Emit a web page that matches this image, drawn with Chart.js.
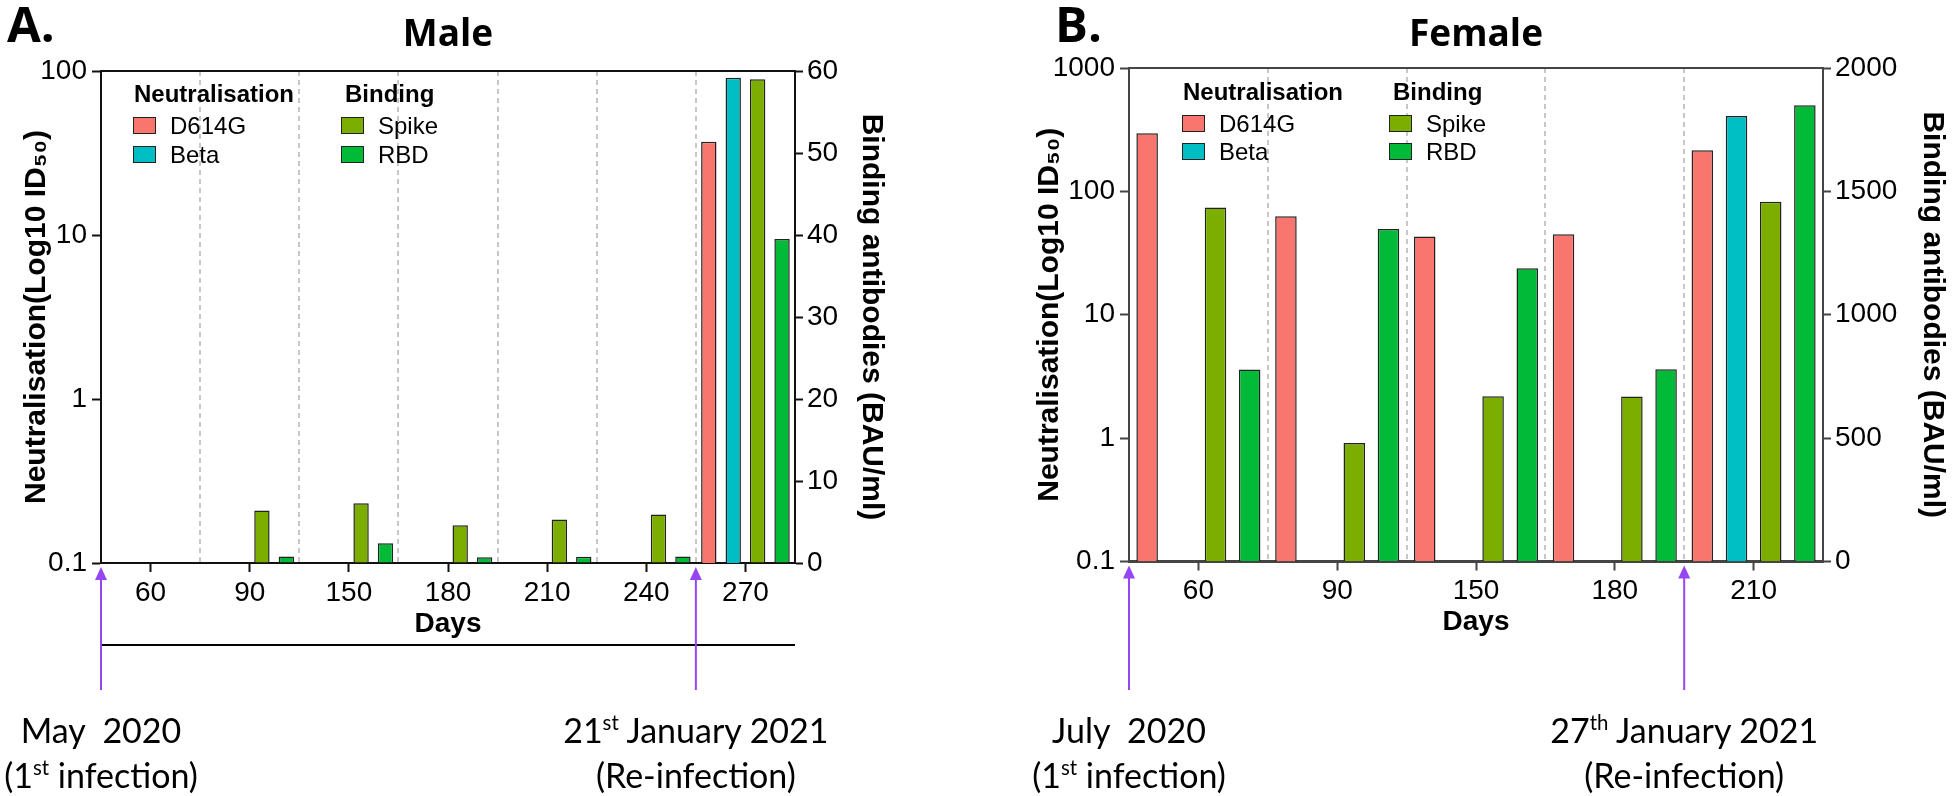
<!DOCTYPE html>
<html>
<head>
<meta charset="utf-8">
<title>Neutralisation and binding antibodies - Male / Female</title>
<script src="https://cdn.jsdelivr.net/npm/chart.js@4.4.1/dist/chart.umd.min.js"></script>
<style>
  html, body { margin: 0; padding: 0; background: #fff; }
  #page { position: relative; width: 1952px; height: 796px; overflow: hidden; font-family: 'Liberation Sans', Arial, sans-serif; color: #000; }
  canvas { position: absolute; top: 0; }
  .panel { position: absolute; top: -1px; font-family: 'Open Sans', sans-serif; font-weight: 700; font-size: 49px; line-height: 49px; }
  .lg-head { position: absolute; font-weight: bold; font-size: 24px; line-height: 28px; white-space: nowrap; }
  .lg-text { position: absolute; font-size: 24px; line-height: 28px; white-space: nowrap; }
  .lg-box { position: absolute; width: 21px; height: 15px; border: 1.5px solid #222; }
  .note { position: absolute; font-family: Lato, 'Open Sans', sans-serif; font-size: 34px; line-height: 45px; text-align: center; white-space: nowrap; transform: translateX(-50%); }
  .note sup { font-size: 0.6em; line-height: 0; vertical-align: 0.62em; }
</style>
</head>
<body>
<div id="page">
  <canvas id="male" width="896" height="796" style="left:0px"></canvas>
  <canvas id="female" width="952" height="796" style="left:1000px"></canvas>
  <div class="panel" style="left:7px">A.</div>
  <div class="panel" style="left:1055px">B.</div>
</div>
<script>
// ---- data ----
const seriesNames = ['D614G', 'Beta', 'Spike', 'RBD'];

const maleDays = ['60', '90', '150', '180', '210', '240', '270'];
const maleD614G = [null, null, null, null, null, null, 37];
const maleBeta = [null, null, null, null, null, null, 91];
const maleSpike = [null, 6.4, 7.3, 4.6, 5.3, 5.9, 59];
const maleRBD = [null, 0.8, 2.4, 0.7, 0.75, 0.8, 39.5];

const femaleDays = ['60', '90', '150', '180', '210'];
const femaleD614G = [296, 63, 43, 45, 215];
const femaleBeta = [null, null, null, null, 409];
const femaleSpike = [1435, 480, 670, 669, 1458];
const femaleRBD = [778, 1348, 1188, 779, 1849];

// tick labels
const maleNeutTicks = [0.1, 1, 10, 100];
const maleBindTicks = [0, 10, 20, 30, 40, 50, 60];
const femaleNeutTicks = [0.1, 1, 10, 100, 1000];
const femaleBindTicks = [0, 500, 1000, 1500, 2000];

// ---- styles ----
const seriesColors = ['#F8766D', '#00BFC4', '#7CAE00', '#00BA38'];
const arrowColor = '#9546F2';
const gridGray = '#c8c8c8';

Chart.defaults.font.family = "'Liberation Sans', Arial, sans-serif";
Chart.defaults.color = '#000';

// top edge of the plot box, the timeline rule and the infection arrows
const framePlugin = {
    id: 'frame',
    afterDraw(chart, args, opts) {
        const { ctx, chartArea: a } = chart;
        const xs = chart.scales.x;
        ctx.save();
        ctx.strokeStyle = opts.color;
        ctx.lineWidth = opts.width;
        ctx.beginPath();
        ctx.moveTo(a.left - 1, a.top);
        ctx.lineTo(a.right + 1, a.top);
        ctx.stroke();

        if (opts.ruleY) {
            ctx.strokeStyle = '#000';
            ctx.lineWidth = 2;
            ctx.beginPath();
            ctx.moveTo(a.left, opts.ruleY);
            ctx.lineTo(a.right, opts.ruleY);
            ctx.stroke();
        }

        ctx.strokeStyle = arrowColor;
        ctx.fillStyle = arrowColor;
        ctx.lineWidth = 2;
        opts.arrows.forEach(function(v) {
            const x = xs.getPixelForValue(v);
            const tip = a.bottom + 4;
            ctx.beginPath();
            ctx.moveTo(x, 690);
            ctx.lineTo(x, tip + 10);
            ctx.stroke();
            ctx.beginPath();
            ctx.moveTo(x, tip);
            ctx.lineTo(x - 6, tip + 13);
            ctx.lineTo(x + 6, tip + 13);
            ctx.closePath();
            ctx.fill();
        });
        ctx.restore();
    }
};

function makePanel(p) {
    const series = [p.d614g, p.beta, p.spike, p.rbd];

    const datasets = series.map(function(vals, i) {
        return {
            label: seriesNames[i],
            data: vals,
            yAxisID: i < 2 ? 'yN' : 'yB',
            backgroundColor: seriesColors[i],
            borderColor: '#222',
            borderWidth: 1.5,
            categoryPercentage: 0.985,
            barPercentage: 0.63
        };
    });

    const chart = new Chart(document.getElementById(p.id), {
        type: 'bar',
        data: { labels: p.days, datasets: datasets },
        plugins: [framePlugin],
        options: {
            responsive: false,
            animation: false,
            layout: { padding: { left: 0, right: 0, top: 0, bottom: p.padBottom } },
            plugins: {
                legend: { display: false },
                tooltip: { enabled: false },
                title: {
                    display: true,
                    text: p.title,
                    color: '#000',
                    font: { family: "'Open Sans', sans-serif", size: 37, weight: 'bold', lineHeight: 1.2 },
                    padding: { top: 12.8, bottom: p.titleGap }
                },
                frame: { color: p.axisColor, width: 2, arrows: p.arrows, ruleY: p.ruleY }
            },
            scales: {
                x: {
                    type: 'category',
                    offset: true,
                    grid: { offset: false, drawOnChartArea: false, tickLength: 9, tickWidth: 2, tickColor: p.axisColor },
                    border: { color: p.axisColor, width: p.xBorder },
                    ticks: { font: { size: 28 }, padding: 4, maxRotation: 0, autoSkip: false },
                    title: { display: true, text: 'Days', font: { size: 28, weight: 'bold' }, padding: { top: 0, bottom: 2 } },
                    afterFit: function(s) { s.height = 80; }
                },
                // dashed separators between the day groups
                xGrid: {
                    type: 'category',
                    position: 'top',
                    offset: true,
                    grid: {
                        offset: true,
                        drawTicks: false,
                        lineWidth: 2,
                        color: function(c) {
                            return (c.type !== 'tick' || c.index === 0) ? 'rgba(0,0,0,0)' : gridGray;
                        }
                    },
                    border: { display: false, dash: [5, 4] },
                    ticks: { display: false },
                    afterFit: function(s) { s.height = 0; }
                },
                yN: {
                    type: 'logarithmic',
                    position: 'left',
                    min: p.neutTicks[0],
                    max: p.neutTicks[p.neutTicks.length - 1],
                    afterBuildTicks: function(s) { s.ticks = p.neutTicks.map(v => ({ value: v })); },
                    ticks: { font: { size: 28 }, padding: 5, callback: v => String(v) },
                    grid: { drawOnChartArea: false, tickLength: 9, tickWidth: 2, tickColor: p.axisColor },
                    border: { color: p.axisColor, width: 2 },
                    title: {
                        display: true,
                        text: 'Neutralisation(Log10 ID\u2085\u2080)',
                        font: { size: 30, weight: 'bold' },
                        padding: { top: p.leftTitlePad, bottom: 0 }
                    },
                    afterFit: function(s) { s.width = p.leftW; }
                },
                yB: {
                    type: 'linear',
                    position: 'right',
                    min: p.bindTicks[0],
                    max: p.bindTicks[p.bindTicks.length - 1],
                    afterBuildTicks: function(s) { s.ticks = p.bindTicks.map(v => ({ value: v })); },
                    ticks: { font: { size: 28 }, padding: 4, callback: v => String(v) },
                    grid: { drawOnChartArea: false, tickLength: 8, tickWidth: 2, tickColor: p.axisColor },
                    border: { color: p.axisColor, width: 2 },
                    title: {
                        display: true,
                        text: 'Binding antibodies (BAU/ml)',
                        font: { size: 30, weight: 'bold' },
                        padding: { top: p.rightTitlePad, bottom: 0 }
                    },
                    afterFit: function(s) { s.width = p.rightW; }
                }
            }
        }
    });

    const page = document.getElementById('page');

    // legend with the two group headers
    const groups = [{ head: 'Neutralisation', items: [0, 1], left: p.legend.col1 },
                    { head: 'Binding', items: [2, 3], left: p.legend.col2 }];
    groups.forEach(function(g, gi) {
        const h = document.createElement('div');
        h.className = 'lg-head';
        h.textContent = g.head;
        h.style.left = (g.left + (gi ? 4 : 1)) + 'px';
        h.style.top = p.legend.top + 'px';
        page.appendChild(h);
        g.items.forEach(function(idx, row) {
            const boxTop = p.legend.top + p.legend.firstRow + row * 28.5;
            const b = document.createElement('div');
            b.className = 'lg-box';
            b.style.left = g.left + 'px';
            b.style.top = boxTop + 'px';
            b.style.background = seriesColors[idx];
            page.appendChild(b);
            const t = document.createElement('div');
            t.className = 'lg-text';
            t.textContent = seriesNames[idx];
            t.style.left = (g.left + 37) + 'px';
            t.style.top = (boxTop - 4.7) + 'px';
            page.appendChild(t);
        });
    });

    // dates under the arrows
    p.notes.forEach(function(note) {
        const d = document.createElement('div');
        d.className = 'note';
        d.innerHTML = note.html;
        d.style.left = (p.canvasLeft + chart.scales.x.getPixelForValue(note.at)) + 'px';
        d.style.top = '707px';
        page.appendChild(d);
    });

    return chart;
}

makePanel({
    id: 'male', title: 'Male', canvasLeft: 0,
    days: maleDays, d614g: maleD614G, beta: maleBeta, spike: maleSpike, rbd: maleRBD,
    neutTicks: maleNeutTicks, bindTicks: maleBindTicks,
    axisColor: '#111', xBorder: 2,
    leftW: 101, rightW: 101, leftTitlePad: 19, rightTitlePad: 7,
    titleGap: 13.8, padBottom: 153,
    arrows: [-0.5, 5.5], ruleY: 645,
    legend: { col1: 133, col2: 341, top: 80, firstRow: 37 },
    notes: [
        { at: -0.5, html: 'May&nbsp; 2020<br>(1<sup>st</sup> infection)' },
        { at: 5.5, html: '21<sup>st</sup> January 2021<br>(Re-infection)' }
    ]
});

makePanel({
    id: 'female', title: 'Female', canvasLeft: 1000,
    days: femaleDays, d614g: femaleD614G, beta: femaleBeta, spike: femaleSpike, rbd: femaleRBD,
    neutTicks: femaleNeutTicks, bindTicks: femaleBindTicks,
    axisColor: '#444', xBorder: 3,
    leftW: 129, rightW: 129, leftTitlePad: 32, rightTitlePad: 2,
    titleGap: 10.8, padBottom: 154.5,
    arrows: [-0.5, 3.5], ruleY: null,
    legend: { col1: 1182, col2: 1389, top: 78, firstRow: 36.5 },
    notes: [
        { at: -0.5, html: 'July&nbsp; 2020<br>(1<sup>st</sup> infection)' },
        { at: 3.5, html: '27<sup>th</sup> January 2021<br>(Re-infection)' }
    ]
});
</script>
</body>
</html>
